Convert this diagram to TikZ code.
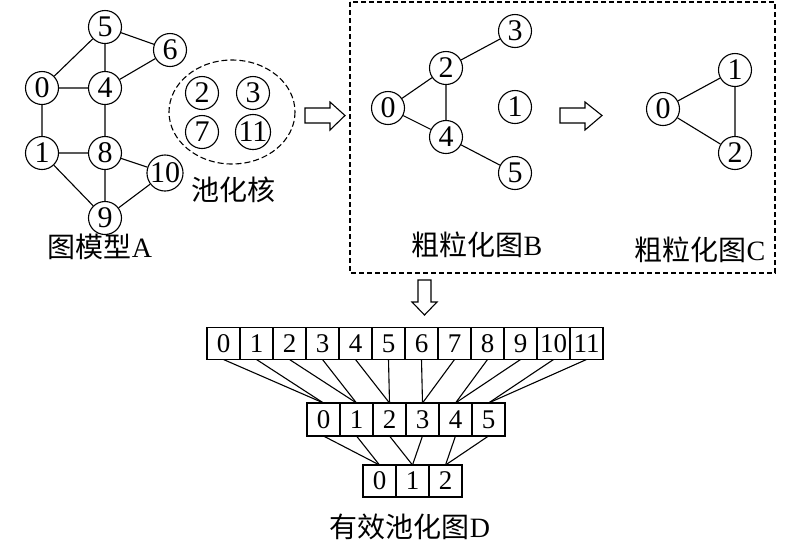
\documentclass[tikz,border=0pt]{standalone}
\usepackage{fontspec}
\setmainfont{Liberation Serif}
\newfontfamily\cjk{Noto Sans CJK SC}
\usetikzlibrary{positioning}

\begin{document}
\begin{tikzpicture}[x=1pt, y=-1pt, line width=1.1pt,
  vertex/.style={draw, circle, inner sep=0pt, minimum size=33pt, font=\fontsize{30}{30}\selectfont},
  cell/.style={draw, inner sep=0pt, outer sep=0pt, minimum width=33pt, minimum height=32pt, font=\fontsize{27}{27}\selectfont},
  caption/.style={font=\fontsize{28}{32}\selectfont}]
  \useasboundingbox (0,0) rectangle (800,547);

  % graph A
  \node[vertex] (a5) at (105,27) {5};
  \node[vertex] (a6) at (170,50) {6};
  \node[vertex] (a0) at (42,88) {0};
  \node[vertex] (a4) at (105,88) {4};
  \node[vertex] (a1) at (42,153) {1};
  \node[vertex] (a8) at (105,153) {8};
  \node[vertex] (a10) at (165,173) {10};
  \node[vertex] (a9) at (105,218) {9};
  \draw (a5) -- (a6) (a5) -- (a0) (a5) -- (a4) (a0) -- (a4) (a6) -- (a4)
        (a0) -- (a1) (a4) -- (a8) (a1) -- (a8) (a8) -- (a10) (a8) -- (a9)
        (a1) -- (a9) (a9) -- (a10);
  \node[caption] (capA) at (100,247) {{\cjk 图模型}A};

  % pooling kernel
  \draw[dash pattern=on 6pt off 3pt] (232,112) ellipse (63 and 52);
  \node[vertex] (k2) at (202,93) {2};
  \node[vertex] (k3) at (253,93) {3};
  \node[vertex] (k7) at (202,132) {7};
  \node[vertex] (k11) at (253,132) {11};
  \node[caption] (capK) at (233,190) {\cjk 池化核};

  % hollow arrows
  \draw (305,108) -- (330,108) -- (330,102) -- (345,115.5) -- (330,130)
        -- (330,123) -- (305,123) -- cycle;
  \draw (560,108) -- (585,108) -- (585,102) -- (602,115.5) -- (585,130)
        -- (585,123) -- (560,123) -- cycle;
  \draw (418,280) -- (418,302) -- (412,302) -- (424.5,315) -- (437,302)
        -- (431,302) -- (431,280) -- cycle;

  % coarse graphs B and C
  \draw[dash pattern=on 5pt off 3pt] (350,2) rectangle (775,273);
  \node[vertex] (b3) at (515,31) {3};
  \node[vertex] (b2) at (446,68) {2};
  \node[vertex] (b0) at (388,108) {0};
  \node[vertex] (b1) at (515,107) {1};
  \node[vertex] (b4) at (446,137) {4};
  \node[vertex] (b5) at (515,173) {5};
  \draw (b2) -- (b3) (b0) -- (b2) (b2) -- (b4) (b0) -- (b4) (b4) -- (b5);
  \node[caption] (capB) at (477,245) {{\cjk 粗粒化图}B};

  \node[vertex] (c1) at (735,70) {1};
  \node[vertex] (c0) at (663,109) {0};
  \node[vertex] (c2) at (735,153) {2};
  \draw (c0) -- (c1) (c1) -- (c2) (c0) -- (c2);
  \node[caption] (capC) at (700,250) {{\cjk 粗粒化图}C};

  % pooling rows
  \node[cell] (t0) at (223.5,343.5) {0};
  \foreach \i [remember=\i as \p (initially 0)] in {1,...,11}
    \node[cell, right=0pt of t\p] (t\i) {\i};
  \node[cell, minimum height=33pt] (m0) at (323.5,419.5) {0};
  \foreach \i [remember=\i as \p (initially 0)] in {1,...,5}
    \node[cell, minimum height=33pt, right=0pt of m\p] (m\i) {\i};
  \node[cell] (d0) at (379.5,481) {0};
  \foreach \i [remember=\i as \p (initially 0)] in {1,2}
    \node[cell, right=0pt of d\p] (d\i) {\i};
  \foreach \i in {0,...,11} {
    \pgfmathtruncatemacro\h{\i/2}
    \draw (t\i.south) -- (m\h.north);
  }
  \foreach \i in {0,...,5} {
    \pgfmathtruncatemacro\h{\i/2}
    \draw (m\i.south) -- (d\h.north);
  }
  \node[caption] (capD) at (410,527) {{\cjk 有效池化图}D};
\end{tikzpicture}
\end{document}
